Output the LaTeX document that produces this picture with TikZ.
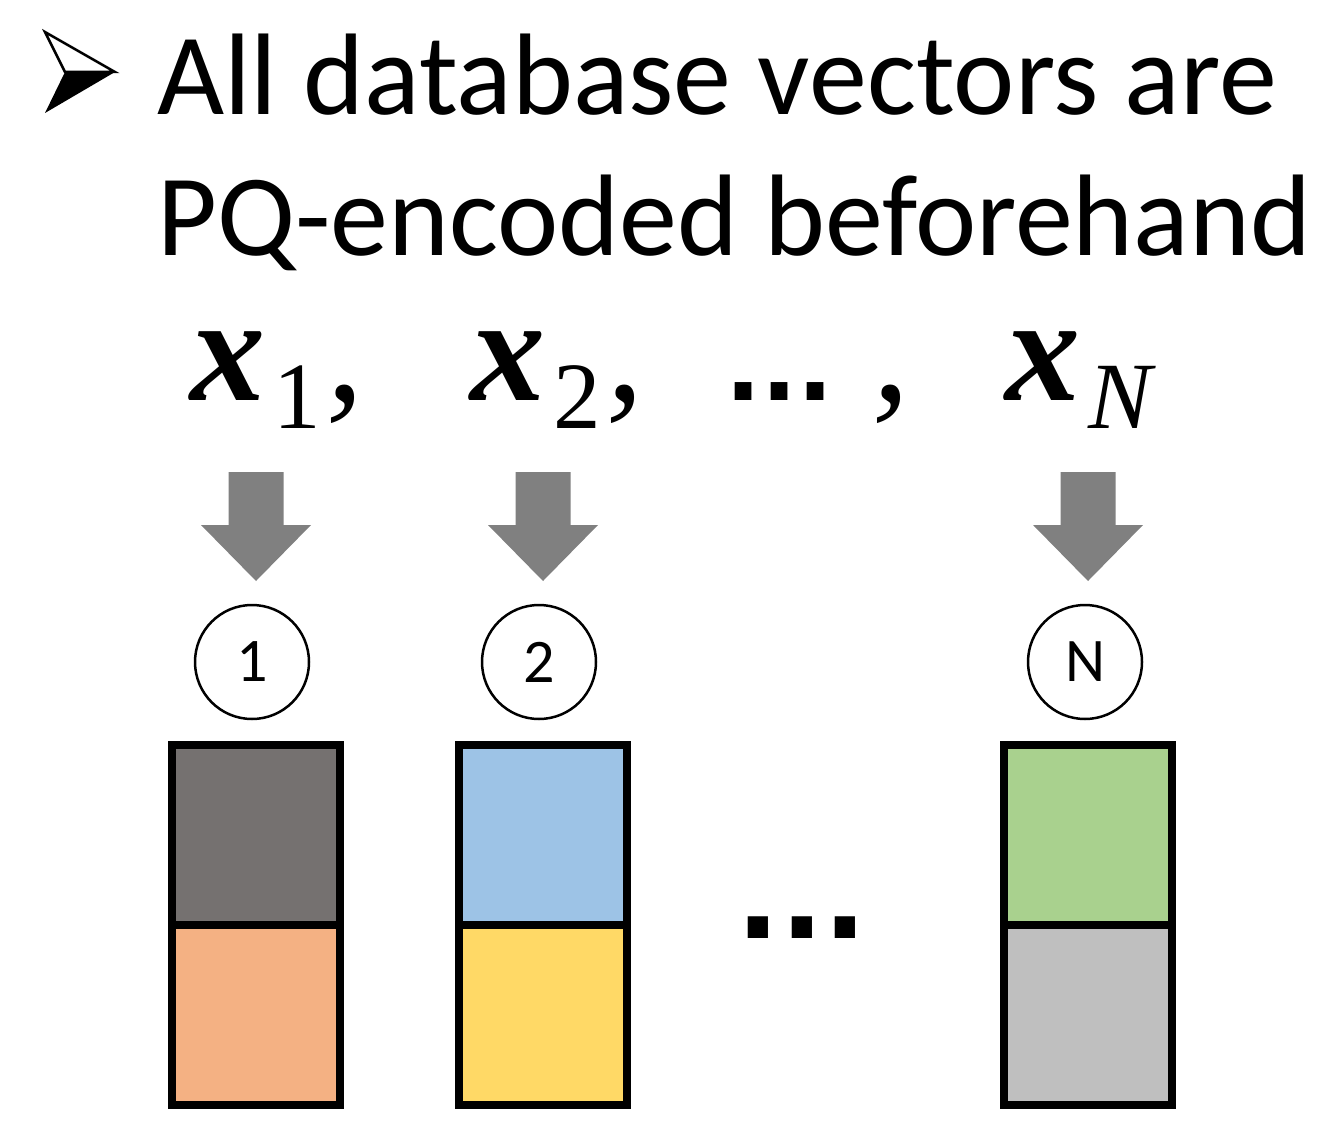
\documentclass[tikz,border=0pt]{standalone}
\usepackage{fontspec}
\setmainfont{Carlito}
\newfontfamily\vecfont{Liberation Serif}
\newfontfamily\dotfont{DejaVu Sans}
\usetikzlibrary{positioning}

\definecolor{arrowgray}{HTML}{808080}
\definecolor{codegray}{HTML}{757170}
\definecolor{codeorange}{HTML}{F4B183}
\definecolor{codeblue}{HTML}{9DC3E6}
\definecolor{codeyellow}{HTML}{FFD966}
\definecolor{codegreen}{HTML}{A9D18E}
\definecolor{codesilver}{HTML}{BFBFBF}

% subscript of a database vector
\newcommand{\vsub}[1]{\kern8pt\raisebox{-28pt}{\fontsize{95}{95}\selectfont #1}}

\tikzset{
  headline/.style={anchor=base west, inner sep=0pt, font=\fontsize{116}{140}\selectfont},
  vecname/.style={anchor=base west, inner sep=0pt, font=\vecfont\fontsize{150}{150}\selectfont},
  idcircle/.style={circle, draw, line width=2.5pt, minimum size=114pt, inner sep=0pt,
    font=\fontsize{62}{62}\selectfont},
  codecell/.style={draw, line width=8pt, minimum width=168pt, minimum height=180pt,
    inner sep=0pt, outer sep=0pt},
  downarrow/.style={fill=arrowgray},
}

\begin{document}
\begin{tikzpicture}[x=1pt, y=-1pt]
  \useasboundingbox (0,0) rectangle (1324,1137);

  % bullet
  \draw[line width=2.5pt, fill=white] (45,32) -- (115,72) -- (65,72) -- cycle;
  \fill (65,72) -- (115,72) -- (45,113) -- cycle;

  \node[headline] (line1) at (157,115) {All database vectors are};
  \node[headline] (line2) at (157,255) {PQ-encoded beforehand};

  % the vectors
  \node[vecname] (x1) at (190,400) {\textbf{\textit{x}}\vsub{1}\kern6pt\textit{,}};
  \node[vecname] (x2) at (470,400) {\textbf{\textit{x}}\vsub{2}\kern6pt\textit{,}};
  \node[vecname, font=\dotfont\bfseries\fontsize{95}{95}\selectfont] (xdots) at (725,400) {...};
  \node[vecname] (xcomma) at (872,400) {\textit{,}};
  \node[vecname] (xN) at (1005,400) {\textbf{\textit{x}}\vsub{\textit{N}}};

  % encoding arrows
  \foreach \c in {256,543,1088}
    \fill[downarrow] ({\c-27.5},472) -- ({\c+27.5},472) -- ({\c+27.5},525)
      -- ({\c+55},525) -- (\c,581) -- ({\c-55},525) -- ({\c-27.5},525) -- cycle;

  \node[idcircle] (id1) at (252,662) {1};
  \node[idcircle] (id2) at (539,662) {2};
  \node[idcircle] (idN) at (1085,662) {N};

  % PQ codes
  \node[codecell, fill=codegray] (code1a) at (256,835) {};
  \node[codecell, fill=codeorange, below=0pt of code1a] (code1b) {};
  \node[codecell, fill=codeblue] (code2a) at (542.5,835) {};
  \node[codecell, fill=codeyellow, below=0pt of code2a] (code2b) {};
  \node[codecell, fill=codegreen] (codeNa) at (1088,835) {};
  \node[codecell, fill=codesilver, below=0pt of codeNa] (codeNb) {};

  \node[anchor=base, inner sep=0pt, font=\dotfont\bfseries\fontsize{115}{115}\selectfont]
    (codedots) at (802,938) {...};
\end{tikzpicture}
\end{document}
